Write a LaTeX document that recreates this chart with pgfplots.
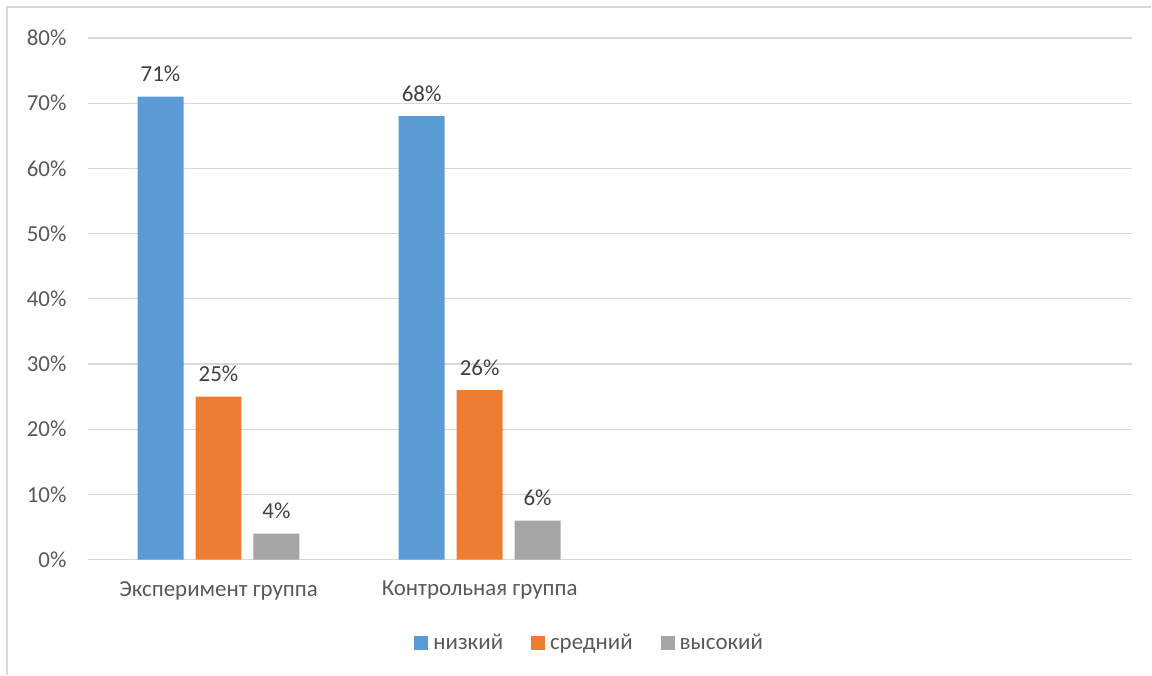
\documentclass[border=0pt]{standalone}
\usepackage{pgfplots}
\pgfplotsset{compat=1.18}
\usepackage{fontspec}
\setmainfont{Carlito}
\definecolor{cblue}{HTML}{5B9BD5}
\definecolor{corange}{HTML}{ED7D31}
\definecolor{cgray}{HTML}{A5A5A5}
\definecolor{gridc}{HTML}{D9D9D9}
\definecolor{tickc}{HTML}{595959}
\definecolor{labc}{HTML}{404040}
\begin{document}
\begin{tikzpicture}
\begin{axis}[
  at={(0,0)}, anchor=south west,
  scale only axis, width=1045bp, height=522bp,
  xmin=-0.5, xmax=3.5, ymin=0, ymax=80,
  axis line style={draw=none},
  ymajorgrids, grid style={gridc, line width=1.2bp},
  ytick={0,10,...,80},
  xtick={0,1}, xticklabels={Эксперимент группа, Контрольная группа},
  /pgf/number format/assume math mode=true,
  yticklabel={\pgfmathprintnumber{\tick}\%},
  tick label style={font=\fontsize{23}{27}\selectfont, text=tickc},
  yticklabel style={anchor=east, xshift=-18bp},
  xticklabel style={anchor=north, yshift=-18bp},
  major tick length=0pt,
  ybar, bar width=46bp,
  nodes near coords={\pgfmathprintnumber{\pgfplotspointmeta}\%},
  nodes near coords style={font=\fontsize{23}{27}\selectfont, text=labc, anchor=south, yshift=11bp},
  legend columns=3,
  legend style={at={(0.4804,-0.159)}, anchor=center, draw=none, fill=none,
    font=\fontsize{23}{27}\selectfont, text=tickc,
    /tikz/every odd column/.append style={column sep=3bp},
    /tikz/every even column/.append style={column sep=26bp}},
  legend image code/.code={\fill[#1] (0bp,-7bp) rectangle (14bp,7bp);},
]
\addplot[fill=cblue, draw=none, bar shift=-58bp] coordinates {(0,71) (1,68)};
\addplot[fill=corange, draw=none, bar shift=0bp] coordinates {(0,25) (1,26)};
\addplot[fill=cgray, draw=none, bar shift=58bp] coordinates {(0,4) (1,6)};
\legend{низкий, средний, высокий}
\end{axis}
\draw[gridc, line width=1.2bp] (-81bp,-115bp) -- (-81bp,553bp) -- (1064bp,553bp);
\path[use as bounding box] (-88bp,-115bp) rectangle (1064bp,560bp);
\end{tikzpicture}
\end{document}
